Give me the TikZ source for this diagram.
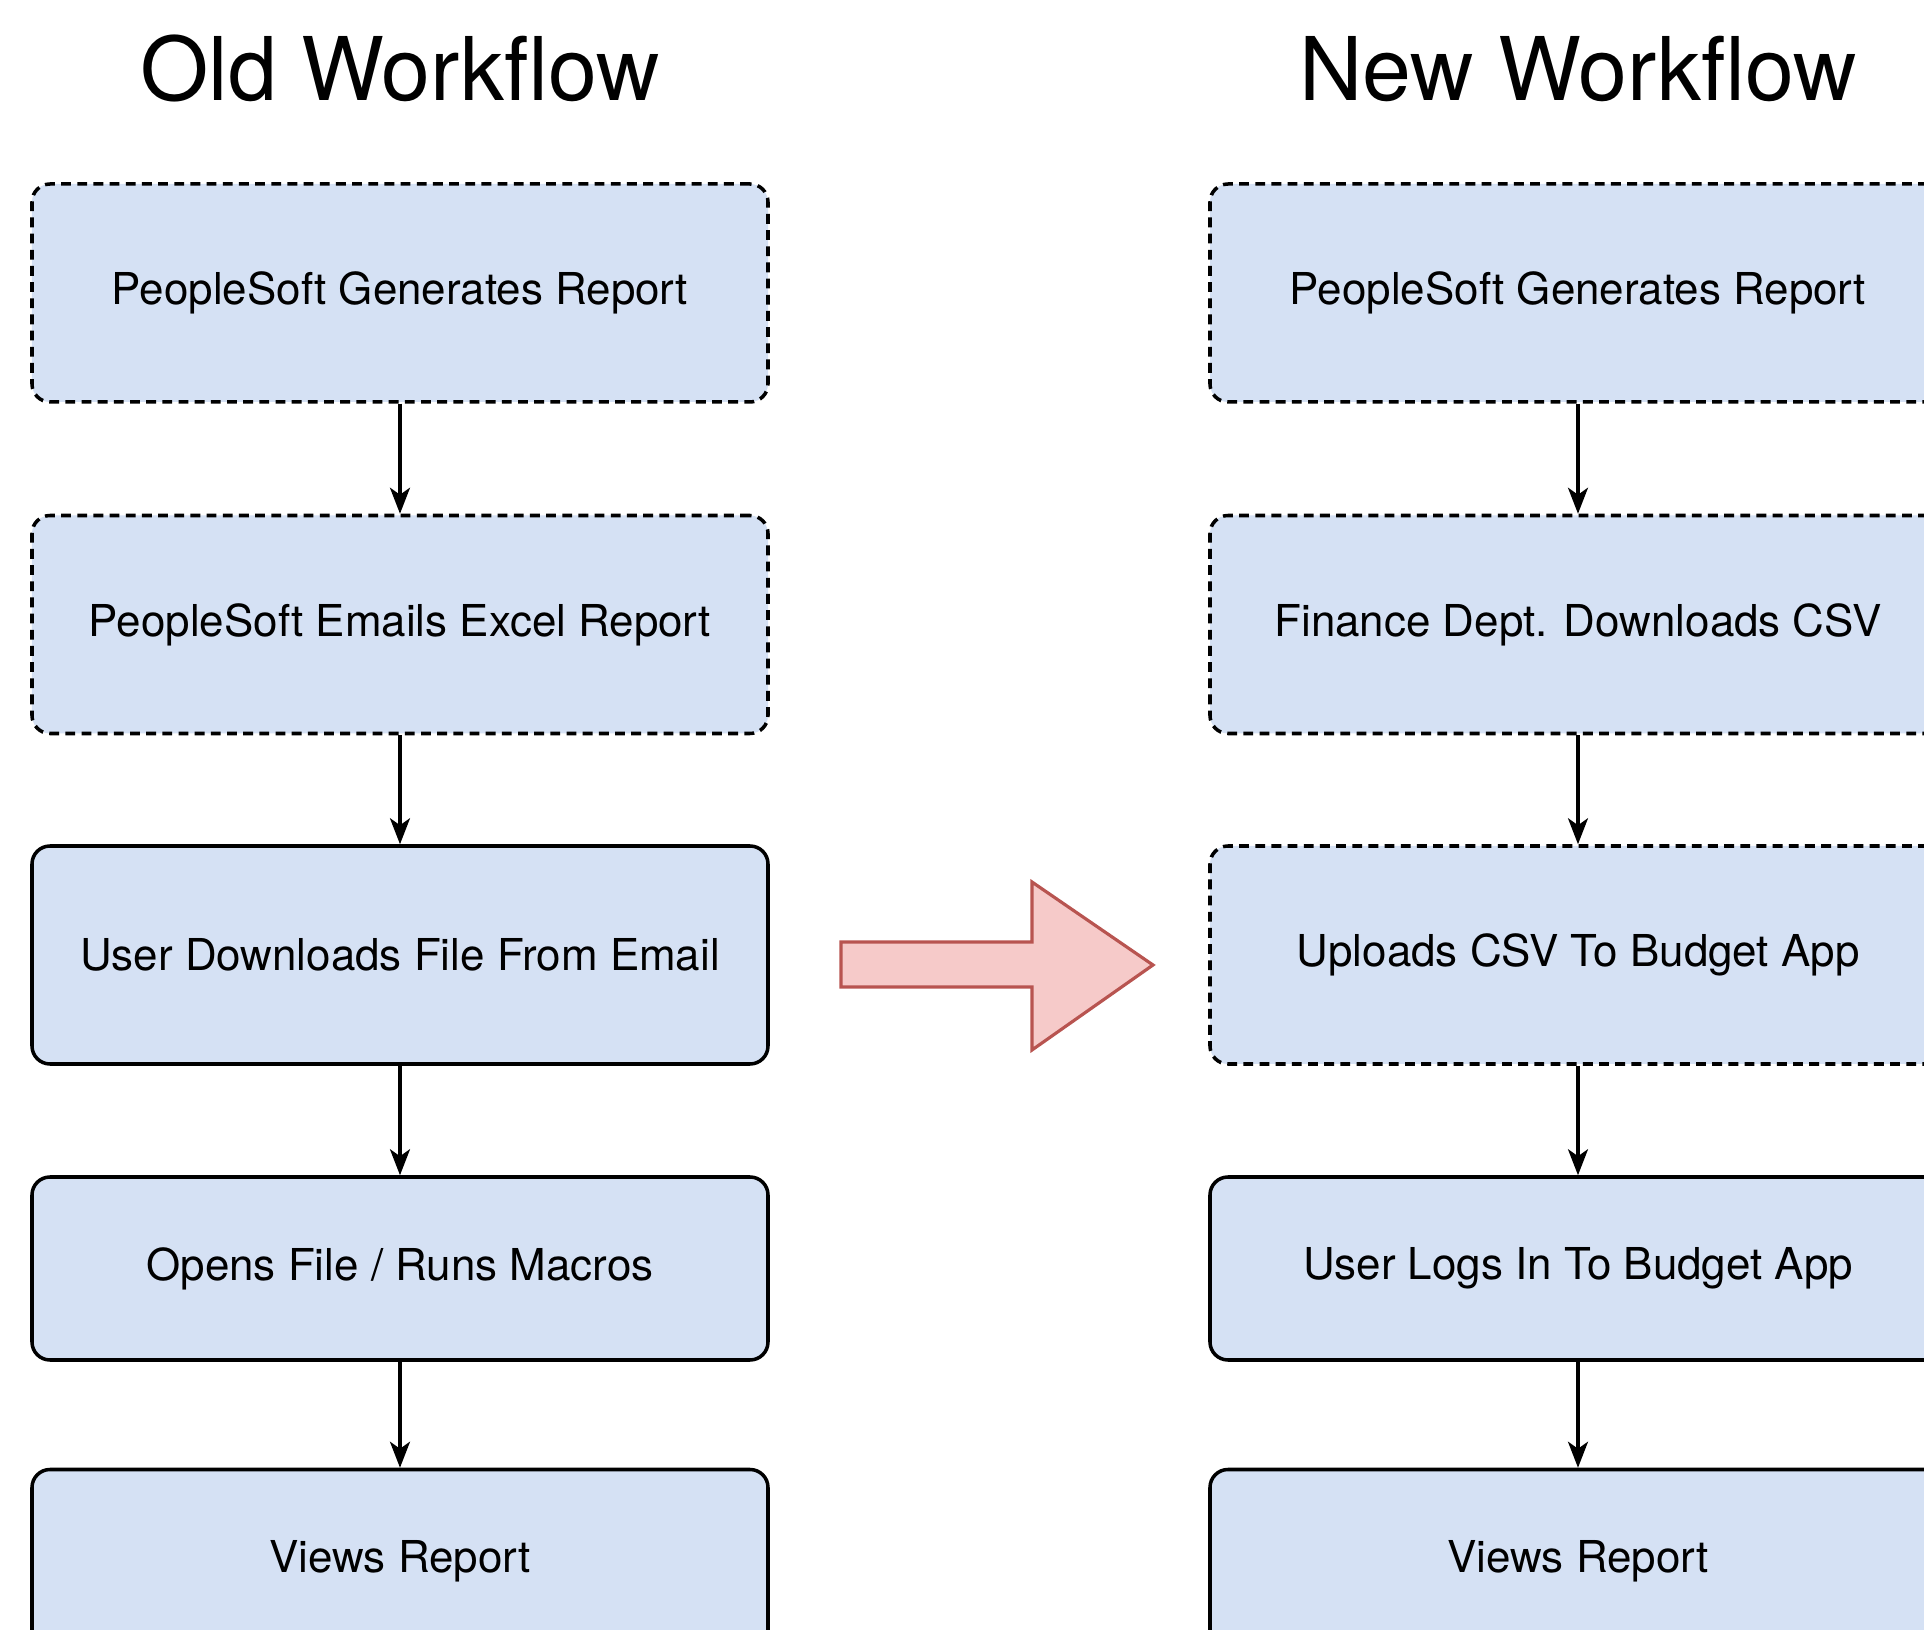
\documentclass[tikz,border=0pt]{standalone}
\usepackage{fontspec}
\setmainfont{TeX Gyre Heros}
\usetikzlibrary{arrows.meta}
\definecolor{boxblue}{RGB}{213,225,244}
\definecolor{arrowpink}{RGB}{246,202,201}
\definecolor{arrowred}{RGB}{184,84,80}
\begin{document}
\begin{tikzpicture}
\tikzstyle{step box}=[draw, line width=1pt, fill=boxblue, rounded corners=0.18cm, minimum width=7.36cm, minimum height=2.18cm, font=\fontsize{12.5}{15}\selectfont]
\tikzstyle{short box}=[step box, minimum height=1.83cm]
\tikzstyle{later}=[dash pattern=on 2.8pt off 1.8pt]
\tikzstyle{arrow}=[-{Stealth[length=0.26cm,width=0.2cm,inset=0.07cm]}, line width=0.9pt]
\tikzstyle{title}=[anchor=base, inner sep=0pt, font=\fontsize{25}{30}\selectfont]

\useasboundingbox (0,0) rectangle (19.24,16.30);
\clip (0,0) rectangle (19.24,16.30);

\node[title] (oldtitle) at (4.00, 15.29) {Old Workflow};
\node[title] (newtitle) at (15.78, 15.29) {New Workflow};

% old workflow
\node[step box, later] (old1) at (4.00, 13.37) {PeopleSoft Generates Report};
\node[step box, later] (old2) at (4.00, 10.055) {PeopleSoft Emails Excel Report};
\node[step box] (old3) at (4.00, 6.75) {User Downloads File From Email};
\node[short box] (old4) at (4.00, 3.615) {Opens File / Runs Macros};
\node[short box] (old5) at (4.00, 0.69) {Views Report};

% new workflow
\node[step box, later] (new1) at (15.78, 13.37) {PeopleSoft Generates Report};
\node[step box, later] (new2) at (15.78, 10.055) {Finance Dept. Downloads CSV};
\node[step box, later] (new3) at (15.78, 6.75) {Uploads CSV To Budget App};
\node[short box] (new4) at (15.78, 3.615) {User Logs In To Budget App};
\node[short box] (new5) at (15.78, 0.69) {Views Report};

\draw[arrow] (old1) -- (old2);
\draw[arrow] (old2) -- (old3);
\draw[arrow] (old3) -- (old4);
\draw[arrow] (old4) -- (old5);

\draw[arrow] (new1) -- (new2);
\draw[arrow] (new2) -- (new3);
\draw[arrow] (new3) -- (new4);
\draw[arrow] (new4) -- (new5);

% old -> new
\draw[fill=arrowpink, draw=arrowred, line width=0.9pt, line join=miter]
  (8.41, 6.88) -- (10.32, 6.88) -- (10.32, 7.48) -- (11.53, 6.65)
  -- (10.32, 5.80) -- (10.32, 6.43) -- (8.41, 6.43) -- cycle;

\end{tikzpicture}
\end{document}
